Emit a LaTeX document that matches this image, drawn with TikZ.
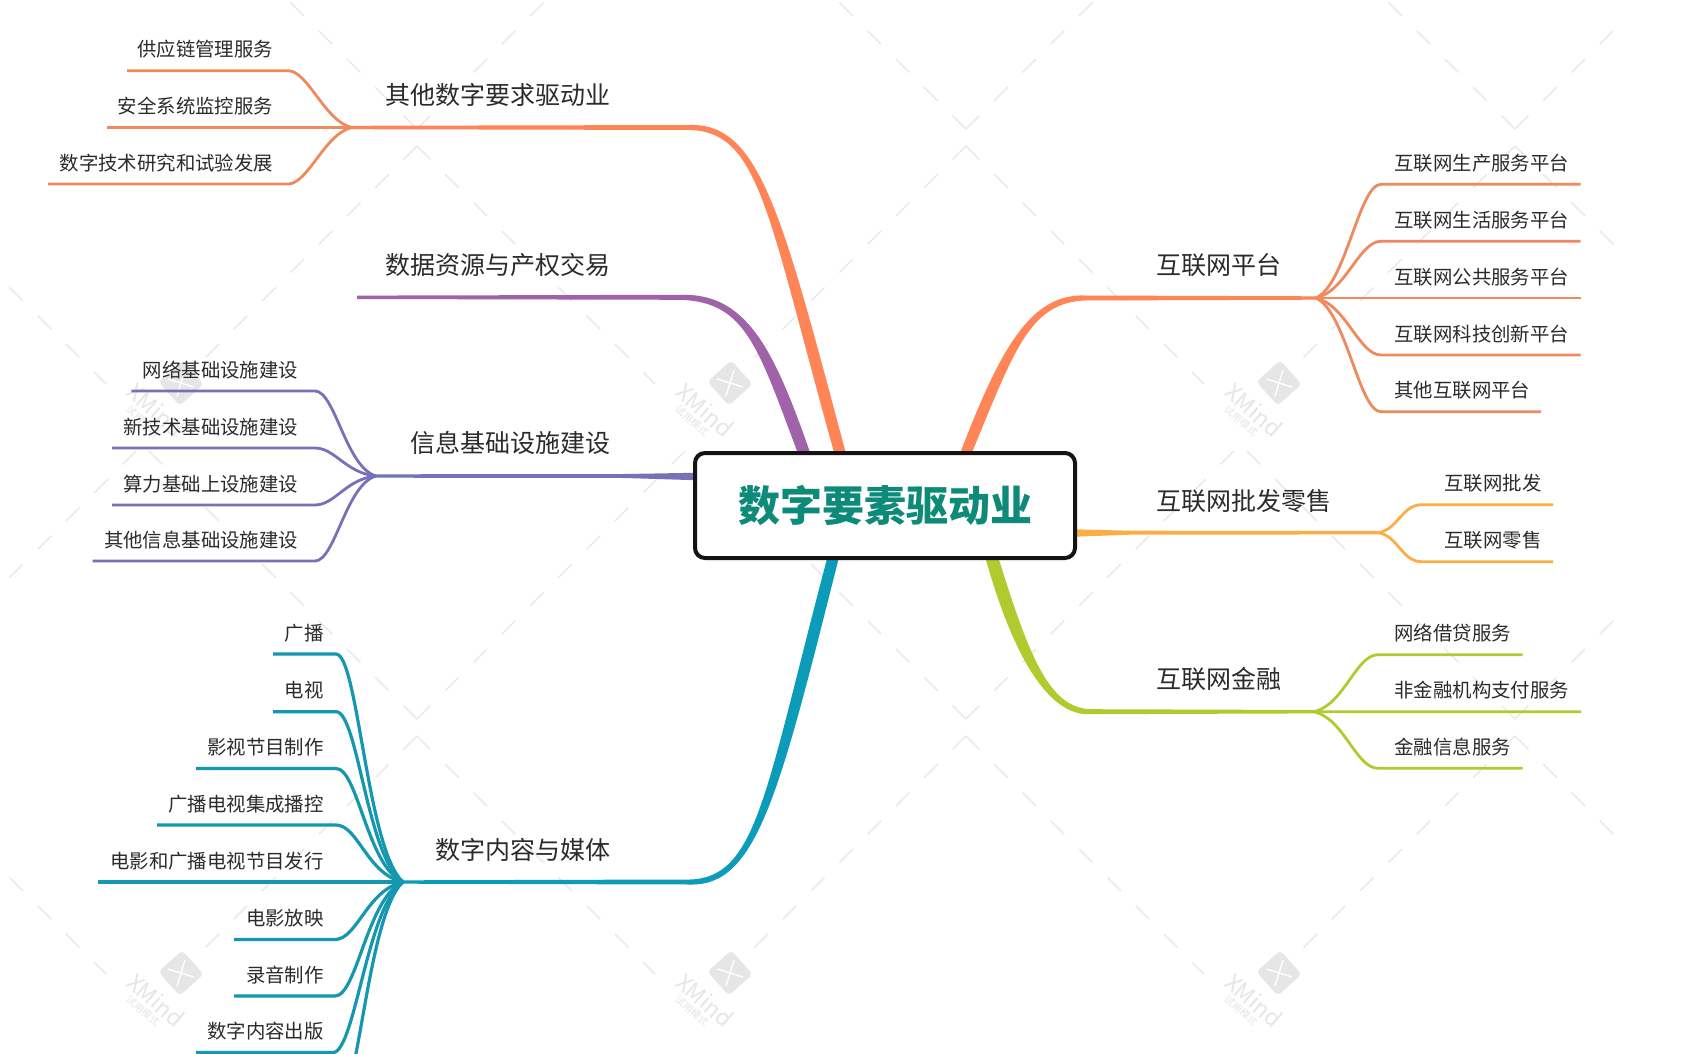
\documentclass[tikz,border=0pt]{standalone}
\usepackage{fontspec}
\setmainfont{Noto Sans CJK SC}
\usetikzlibrary{calc}
\definecolor{orangeA}{HTML}{FF8557}
\definecolor{orangeB}{HTML}{EE8A5E}
\definecolor{purpleA}{HTML}{A063A9}
\definecolor{indigoA}{HTML}{7672B7}
\definecolor{blueA}{HTML}{0C9CBA}
\definecolor{blueB}{HTML}{1497AF}
\definecolor{greenA}{HTML}{B1CB2E}
\definecolor{yellowA}{HTML}{FBAE45}
\definecolor{tealA}{HTML}{0D8A78}
\definecolor{inkA}{HTML}{2B2B2B}
\definecolor{markA}{HTML}{E6E6E6}
% main branch that widens towards the central box
\newcommand{\taperline}[7]{%
  \fill[#7] ($(#1)+(0,-1.7)$) -- ($(#2)+(0,-2.5)$)
    .. controls ($(#3)+(0,-4.5)$) and ($(#4)+1.25*(#6)$) .. ($(#5)+(#6)$)
    -- ($(#5)-(#6)$)
    .. controls ($(#4)-1.25*(#6)$) and ($(#3)-(0,-4.5)$) .. ($(#2)-(0,-2.5)$)
    -- ($(#1)-(0,-1.7)$) -- cycle;}
% straight main branch with a short flare at the box
\newcommand{\flareline}[4]{%
  \fill[#4] ($(#1)+(0,-1.7)$) -- ($(#2)+(0,-2)$) -- ($(#3)+(0,-3.7)$)
    -- ($(#3)+(0,3.7)$) -- ($(#2)+(0,2)$) -- ($(#1)+(0,1.7)$) -- cycle;}
% label, underline and curve into the junction
\newcommand{\bendout}{20}
\newcommand{\bendin}{-27}
\newcommand{\bendk}{0.1}
\newcommand{\leaf}[9]{%
  \node[subtext,anchor=#7] (#3) at (#8,#6-21.5) {#9};
  \coordinate (#3f) at (#4,#6);
  \coordinate (#3b) at (#5,#6);
  \draw[#1] (#3f) -- (#3b) .. controls +(\bendout,0) and ($(#2)!\bendk!(#2|-#3b)+(\bendin,0)$) .. (#2);}
% faint background marks
\newcommand{\wcross}[2]{%
  \draw[wline] (#1,#2) -- ++(-270,-270);
  \draw[wline] (#1,#2) -- ++(270,-270);
  \draw[wline] (#1,#2+17) -- ++(-238,238);
  \draw[wline] (#1,#2+17) -- ++(238,238);}
\newcommand{\wlogo}[2]{%
  \node[fill=markA,rounded corners=2pt,rotate=42,minimum size=16pt,inner sep=0pt] at (#1,#2) {};
  \draw[white,line width=0.7pt] (#1-13,#2-4) -- (#1+13,#2+4);
  \draw[white,line width=0.7pt] (#1+4,#2-13) -- (#1-4,#2+13);
  \node[text=markA,rotate=-41,font=\fontsize{11.5}{12}\selectfont] at (#1-25,#2+27) {XMind};
  \node[text=markA,rotate=-41,font=\fontsize{5}{6}\selectfont] at (#1-38,#2+38) {试用模式};}
\begin{document}
\begin{tikzpicture}[x=0.5pt,y=-0.5pt,
    topic/.style ={inner sep=0pt, text=inkA, text height=0.88em, text depth=0.12em, font=\fontsize{12.5}{14}\selectfont},
    subtext/.style ={inner sep=0pt, text=inkA, text height=0.88em, text depth=0.12em, font=\fontsize{9.7}{11}\selectfont},
    hub/.style ={draw=black!92, fill=white, line width=2pt, rounded corners=5pt, minimum width=190pt, minimum height=52.5pt, inner sep=0pt, text=tealA, font=\fontsize{21}{24}\selectfont\bfseries},
    orangesub/.style ={draw=orangeB, line width=1.4pt},
    indigosub/.style ={draw=indigoA, line width=1.4pt},
    bluesub/.style ={draw=blueB, line width=1.6pt},
    greensub/.style ={draw=greenA, line width=1.4pt},
    yellowsub/.style ={draw=yellowA, line width=1.4pt},
    wline/.style ={draw=markA, line width=0.55pt, dash pattern=on 9.5pt off 10.5pt}]
  \useasboundingbox (0,0) rectangle (1681,1054);
  \clip (0,0) rectangle (1681,1054);
  \fill[white] (0,0) rectangle (1681,1054);
  % background
  \begin{scope}
    \clip (0,0) rectangle (1615,1054);
    \wcross{-132}{129} \wcross{417}{129} \wcross{966}{129} \wcross{1515}{129}
    \wcross{-132}{719} \wcross{417}{719} \wcross{966}{719} \wcross{1515}{719}
  \end{scope}
  \wlogo{181}{383} \wlogo{730}{383} \wlogo{1279}{383}
  \wlogo{181}{973} \wlogo{730}{973} \wlogo{1279}{973}
  % junctions and branch ends
  \coordinate (jA) at (352,127.5);
  \coordinate (bA) at (690,127.5);
  \coordinate (rA) at (840,453);
  \coordinate (jB) at (357,297.3);
  \coordinate (bB) at (680,297.3);
  \coordinate (rB) at (804,453);
  \coordinate (jC) at (376,476);
  \coordinate (bC) at (625,476);
  \coordinate (rC) at (695,476.5);
  \coordinate (jD) at (403,882);
  \coordinate (bD) at (690,882);
  \coordinate (rD) at (833,558);
  \coordinate (jE) at (1316,298);
  \coordinate (bE) at (1085,298);
  \coordinate (rE) at (966,453);
  \coordinate (jF) at (1378,532.7);
  \coordinate (bF) at (1130,532.7);
  \coordinate (rF) at (1075,533);
  \coordinate (jG) at (1314,711.7);
  \coordinate (bG) at (1090,711.7);
  \coordinate (rG) at (992,558);
  % other digital
  \leaf{orangesub}{jA}{a1}{127}{288}{70.7}{east}{273.5}{供应链管理服务}
  \leaf{orangesub}{jA}{a2}{107}{288}{127.5}{east}{273.5}{安全系统监控服务}
  \leaf{orangesub}{jA}{a3}{48}{288}{184}{east}{273.5}{数字技术研究和试验发展}
  \taperline{jA}{bA}{760,127.5}{775,215}{rA}{5.8,0}{orangeA}
  \node[topic,anchor=west] (tA) at (385,97) {其他数字要求驱动业};
  % data trade
  \taperline{jB}{bB}{745,297.3}{765,345}{rB}{6.2,0}{purpleA}
  \node[topic,anchor=west] (tB) at (385,267) {数据资源与产权交易};
  % infrastructure
  \renewcommand{\bendin}{-30}
  \leaf{indigosub}{jC}{c1}{131.4}{315}{391}{east}{298.5}{网络基础设施建设}
  \leaf{indigosub}{jC}{c2}{112}{315}{448}{east}{298.5}{新技术基础设施建设}
  \leaf{indigosub}{jC}{c3}{112}{315}{505}{east}{298.5}{算力基础上设施建设}
  \leaf{indigosub}{jC}{c4}{92.6}{315}{561}{east}{298.5}{其他信息基础设施建设}
  \flareline{jC}{bC}{rC}{indigoA}
  \node[topic,anchor=east] (tC) at (611,445) {信息基础设施建设};
  % content and media
  \renewcommand{\bendout}{22}
  \renewcommand{\bendin}{-36}
  \renewcommand{\bendk}{0.14}
  \leaf{bluesub}{jD}{d1}{273}{336}{654}{east}{324}{广播}
  \leaf{bluesub}{jD}{d2}{273}{336}{711.7}{east}{324}{电视}
  \leaf{bluesub}{jD}{d3}{196}{336}{768.5}{east}{324}{影视节目制作}
  \leaf{bluesub}{jD}{d4}{157}{336}{825}{east}{324}{广播电视集成播控}
  \leaf{bluesub}{jD}{d5}{98}{336}{882}{east}{324}{电影和广播电视节目发行}
  \leaf{bluesub}{jD}{d6}{234}{335}{939.5}{east}{324}{电影放映}
  \leaf{bluesub}{jD}{d7}{234}{335}{996}{east}{324}{录音制作}
  \leaf{bluesub}{jD}{d8}{196}{333}{1052.5}{east}{324}{数字内容出版}
  \coordinate (d9b) at (336,1110);
  \draw[bluesub] (d9b) .. controls +(\bendout,0) and ($(jD)!\bendk!(jD|-d9b)+(\bendin,0)$) .. (jD);
  \taperline{jD}{bD}{757,882}{772,794}{rD}{-5.8,0}{blueA}
  \node[topic,anchor=east] (tD) at (611,852) {数字内容与媒体};
  % platforms
  \renewcommand{\bendout}{-22}
  \renewcommand{\bendin}{30}
  \renewcommand{\bendk}{0.12}
  \leaf{orangesub}{jE}{e1}{1580.5}{1381}{184.3}{west}{1394}{互联网生产服务平台}
  \leaf{orangesub}{jE}{e2}{1580.5}{1381}{241.3}{west}{1394}{互联网生活服务平台}
  \leaf{orangesub}{jE}{e3}{1580.5}{1381}{298}{west}{1394}{互联网公共服务平台}
  \leaf{orangesub}{jE}{e4}{1580.5}{1381}{355}{west}{1394}{互联网科技创新平台}
  \leaf{orangesub}{jE}{e5}{1541}{1381}{411.7}{west}{1394}{其他互联网平台}
  \taperline{jE}{bE}{1030,298}{1007,350}{rE}{-5.8,0}{orangeA}
  \node[topic,anchor=west] (tE) at (1156,267) {互联网平台};
  % retail
  \renewcommand{\bendout}{-20}
  \renewcommand{\bendin}{20}
  \renewcommand{\bendk}{0.1}
  \leaf{yellowsub}{jF}{f1}{1553}{1421.7}{504.7}{west}{1444}{互联网批发}
  \leaf{yellowsub}{jF}{f2}{1553}{1421.7}{561.7}{west}{1444}{互联网零售}
  \flareline{jF}{bF}{rF}{yellowA}
  \node[topic,anchor=west] (tF) at (1156,502.7) {互联网批发零售};
  % finance
  \renewcommand{\bendout}{-22}
  \renewcommand{\bendin}{30}
  \renewcommand{\bendk}{0.12}
  \leaf{greensub}{jG}{g1}{1522.6}{1378}{654.7}{west}{1394}{网络借贷服务}
  \leaf{greensub}{jG}{g2}{1581}{1378}{711.7}{west}{1394}{非金融机构支付服务}
  \leaf{greensub}{jG}{g3}{1522.6}{1378}{768.3}{west}{1394}{金融信息服务}
  \taperline{jG}{bG}{1050,711.7}{1022,660}{rG}{6.5,0}{greenA}
  \node[topic,anchor=west] (tG) at (1156,681.3) {互联网金融};
  % centre
  \node[hub] (hub) at (885,505.5) {数字要素驱动业};
\end{tikzpicture}
\end{document}
